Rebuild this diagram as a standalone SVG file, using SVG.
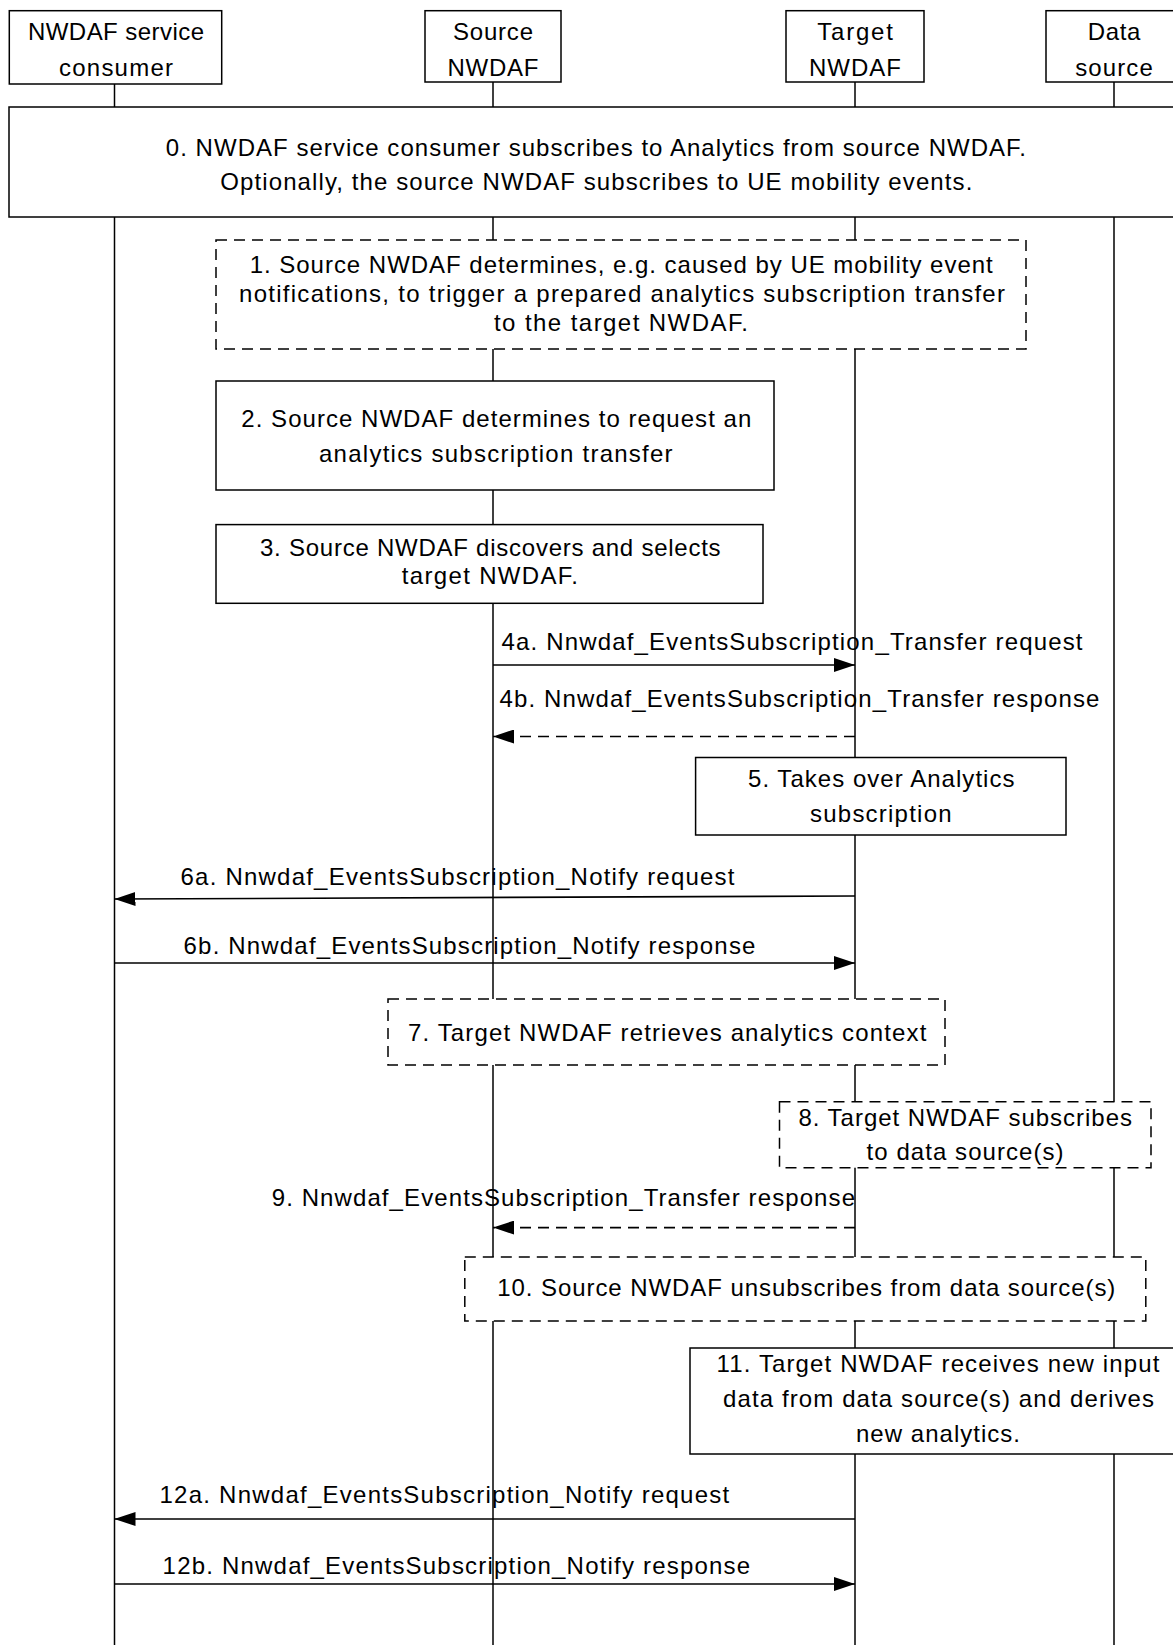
<svg xmlns="http://www.w3.org/2000/svg" width="1173" height="1645" viewBox="0 0 1173 1645">
<style>
.bx{fill:#fff;stroke:#000;stroke-width:1.5}
.ds{stroke-dasharray:11 7}
.ll{stroke:#000;stroke-width:1.5;fill:none}
.ar{stroke:#000;stroke-width:1.6;fill:none;marker-end:url(#ah)}
text{font-family:"Liberation Sans",Arial,sans-serif;font-size:24px;fill:#000}
</style>
<defs>
<marker id="ah" markerUnits="userSpaceOnUse" markerWidth="21" markerHeight="14" refX="21" refY="7" orient="auto">
<path d="M0,0 L21,7 L0,14 z" fill="#000"/>
</marker>
</defs>
<rect width="1173" height="1645" fill="#fff"/>
<g id="lifelines">
<line class="ll" x1="114.5" y1="84" x2="114.5" y2="1645"/>
<line class="ll" x1="493" y1="82" x2="493" y2="1645"/>
<line class="ll" x1="855" y1="82" x2="855" y2="1645"/>
<line class="ll" x1="1114" y1="82" x2="1114" y2="1645"/>
</g>
<g id="p-consumer"><rect class="bx" x="9.3" y="10.7" width="212.4" height="73.3"/>
<text x="28" y="39.5" textLength="176">NWDAF service</text>
<text x="59" y="75.5" textLength="114">consumer</text></g>
<g id="p-source"><rect class="bx" x="425" y="10.7" width="136" height="71.3"/>
<text x="453" y="39.5" textLength="80">Source</text>
<text x="447.5" y="75.5" textLength="91">NWDAF</text></g>
<g id="p-target"><rect class="bx" x="786" y="10.7" width="138" height="71.3"/>
<text x="817.3" y="39.5" textLength="75.5">Target</text>
<text x="809" y="75.5" textLength="92">NWDAF</text></g>
<g id="p-data"><rect class="bx" x="1046" y="10.7" width="136" height="71.3"/>
<text x="1087.8" y="39.5" textLength="52.5">Data</text>
<text x="1075.2" y="75.5" textLength="77.6">source</text></g>
<g id="s0"><rect class="bx" x="9" y="107" width="1174" height="110"/>
<text x="165.8" y="156" textLength="860">0. NWDAF service consumer subscribes to Analytics from source NWDAF.</text>
<text x="220.3" y="190" textLength="752">Optionally, the source NWDAF subscribes to UE mobility events.</text></g>
<g id="s1"><rect class="bx ds" x="216" y="240" width="810" height="109"/>
<text x="249.7" y="273" textLength="743">1. Source NWDAF determines, e.g. caused by UE mobility event</text>
<text x="239" y="302" textLength="766">notifications, to trigger a prepared analytics subscription transfer</text>
<text x="494" y="331" textLength="254">to the target NWDAF.</text></g>
<g id="s2"><rect class="bx" x="216" y="381" width="558" height="109"/>
<text x="241.3" y="427" textLength="510">2. Source NWDAF determines to request an</text>
<text x="319" y="461.6" textLength="353.6">analytics subscription transfer</text></g>
<g id="s3"><rect class="bx" x="216" y="524.6" width="547" height="78.7"/>
<text x="260" y="556" textLength="460.6">3. Source NWDAF discovers and selects</text>
<text x="401.8" y="584.4" textLength="176">target NWDAF.</text></g>
<g id="s5"><rect class="bx" x="695.6" y="757.5" width="370.4" height="77.5"/>
<text x="748" y="787" textLength="266.5">5. Takes over Analytics</text>
<text x="810" y="821.6" textLength="141.6">subscription</text></g>
<g id="s7"><rect class="bx ds" x="388" y="999" width="557" height="66"/>
<text x="408" y="1040.8" textLength="518.3">7. Target NWDAF retrieves analytics context</text></g>
<g id="s8"><rect class="bx ds" x="779.5" y="1101.7" width="371.5" height="66"/>
<text x="798.4" y="1125.8" textLength="333.6">8. Target NWDAF subscribes</text>
<text x="866.6" y="1160.4" textLength="197">to data source(s)</text></g>
<g id="s10"><rect class="bx ds" x="464.8" y="1257" width="681" height="64"/>
<text x="497.3" y="1295.7" textLength="618">10. Source NWDAF unsubscribes from data source(s)</text></g>
<g id="s11"><rect class="bx" x="690" y="1348" width="496" height="106"/>
<text x="716.6" y="1372.4" textLength="442.8">11. Target NWDAF receives new input</text>
<text x="723" y="1407" textLength="431">data from data source(s) and derives</text>
<text x="856" y="1441.6" textLength="164">new analytics.</text></g>
<g id="connectors">
<path class="ar" d="M493,665 L855,665"/>
<path class="ar ds" d="M855,736.5 L493,736.5"/>
<path class="ar" d="M855,896 L114.5,899"/>
<path class="ar" d="M114.5,963 L855,963"/>
<path class="ar ds" d="M855,1227.6 L493,1227.6"/>
<path class="ar" d="M855,1519 L114.5,1519"/>
<path class="ar" d="M114.5,1584 L855,1584"/>
</g>
<g id="labels">
<text x="501.5" y="649.5" textLength="581">4a. Nnwdaf_EventsSubscription_Transfer request</text>
<text x="499.4" y="707" textLength="600">4b. Nnwdaf_EventsSubscription_Transfer response</text>
<text x="180.5" y="884.5" textLength="554">6a. Nnwdaf_EventsSubscription_Notify request</text>
<text x="183.6" y="953.7" textLength="571.8">6b. Nnwdaf_EventsSubscription_Notify response</text>
<text x="271.7" y="1205.5" textLength="583.3">9. Nnwdaf_EventsSubscription_Transfer response</text>
<text x="159.5" y="1502.5" textLength="569.7">12a. Nnwdaf_EventsSubscription_Notify request</text>
<text x="162.6" y="1573.8" textLength="587.5">12b. Nnwdaf_EventsSubscription_Notify response</text>
</g>
</svg>
